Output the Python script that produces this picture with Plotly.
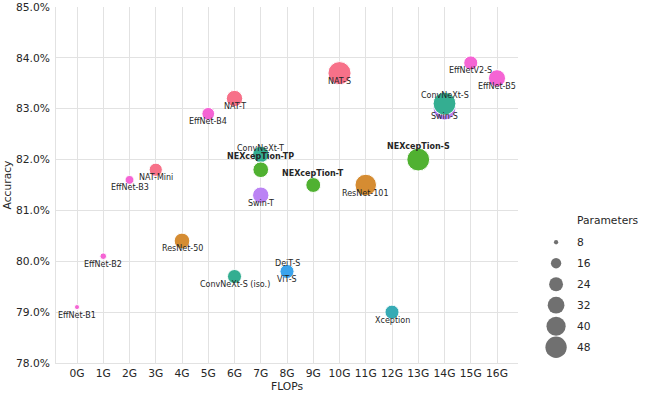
import plotly.graph_objects as go

# ---------------- data ----------------
models = ["EffNet-B1", "EffNet-B2", "EffNet-B3", "NAT-Mini", "EffNet-B4", "NAT-T",
          "ConvNeXt-T", "NEXcepTion-TP", "Swin-T", "NEXcepTion-T", "NAT-S", "ResNet-101",
          "NEXcepTion-S", "Swin-S", "ConvNeXt-S", "EffNetV2-S", "EffNet-B5", "ResNet-50",
          "ConvNeXt-S (iso.)", "ViT-S", "DeiT-S", "Xception"]
flops = [0, 1, 2, 3, 5, 6, 7, 7, 7, 9, 10, 11, 13, 14, 14, 15, 16, 4, 6, 8, 8, 12]
accuracy = [79.1, 80.1, 81.6, 81.8, 82.9, 83.2, 82.1, 81.8, 81.3, 81.5, 83.7, 81.5,
            82.0, 83.0, 83.1, 83.9, 83.6, 80.4, 79.7, 79.8, 79.8, 79.0]
params = [7.8, 9.2, 12, 20, 19, 28, 28, 26, 28, 24, 51, 45, 50, 50, 50, 22, 30, 26, 22, 22, 22, 22]
family = ["EffNet", "EffNet", "EffNet", "NAT", "EffNet", "NAT", "ConvNeXt", "NEXcepTion",
          "Swin", "NEXcepTion", "NAT", "ResNet", "NEXcepTion", "Swin", "ConvNeXt", "EffNet",
          "EffNet", "ResNet", "ConvNeXt", "ViT", "DeiT", "Xception"]
x_tick_values = list(range(0, 17))
x_tick_labels = [f"{v}G" for v in x_tick_values]
y_tick_values = [78, 79, 80, 81, 82, 83, 84, 85]
y_tick_labels = [f"{v:.1f}%" for v in y_tick_values]
legend_sizes = [8, 16, 24, 32, 40, 48]

# ---------------- styles ----------------
family_colors = {"NAT": "#f77189", "ResNet": "#d58c32", "ViT": "#a4a031",
                 "NEXcepTion": "#50b131", "ConvNeXt": "#34ae91", "Xception": "#37abb5",
                 "DeiT": "#3ba3ec", "Swin": "#bb83f4", "EffNet": "#f564d4"}
# label vertical offset in px (negative = below)
label_shift = {"ConvNeXt-T": 6, "ConvNeXt-S": 8, "DeiT-S": 8,
               "NEXcepTion-TP": 13, "NEXcepTion-T": 12, "NEXcepTion-S": 13}
bold_models = {"NEXcepTion-TP", "NEXcepTion-T", "NEXcepTion-S"}
FONT = "DejaVu Sans"
TXT = "#262626"
GRID = "#e2e2e2"


def marker_diameter(p):
    return max(10.9 * p - 68.6, 4.0) ** 0.5


fig = go.Figure()

for m, fx, acc, p, fam in zip(models, flops, accuracy, params, family):
    fig.add_trace(go.Scatter(
        x=[fx], y=[acc], mode="markers", showlegend=False, hoverinfo="skip",
        marker=dict(size=marker_diameter(p) + 1, color=family_colors[fam],
                    line=dict(color="white", width=1))))

annotations = []
for m, fx, acc in zip(models, flops, accuracy):
    text = f"<b>{m}</b>" if m in bold_models else m
    annotations.append(dict(x=fx, y=acc, xref="x", yref="y", text=text, showarrow=False,
                            yshift=label_shift.get(m, -8),
                            font=dict(family=FONT, size=8, color=TXT)))

# size legend on a helper axis
fig.add_trace(go.Scatter(
    x=[0] * len(legend_sizes), y=list(range(len(legend_sizes))), xaxis="x2", yaxis="y2",
    mode="markers", showlegend=False, hoverinfo="skip",
    marker=dict(size=[marker_diameter(s) for s in legend_sizes], color="#333333",
                line=dict(width=0))))
for i, s in enumerate(legend_sizes):
    annotations.append(dict(x=19, y=i, xref="x2", yref="y2", text=str(s), showarrow=False,
                            xanchor="left", font=dict(family=FONT, size=10.7, color=TXT)))
annotations.append(dict(x=19, y=-1.03, xref="x2", yref="y2", text="Parameters",
                        showarrow=False, xanchor="left",
                        font=dict(family=FONT, size=10.7, color=TXT)))

fig.update_layout(
    width=646, height=396,
    margin=dict(l=56, r=0, t=7, b=33),
    plot_bgcolor="white", paper_bgcolor="white",
    font=dict(family=FONT, size=10.7, color=TXT),
    annotations=annotations,
    xaxis=dict(domain=[0, 462 / 590], range=[-0.8, 16.8], tickvals=x_tick_values,
               ticktext=x_tick_labels, showgrid=True, gridcolor=GRID, gridwidth=1,
               zeroline=False, showline=True, linecolor=GRID, linewidth=1,
               ticks="", ticklabelstandoff=0,
               title=dict(text="FLOPs", standoff=1, font=dict(size=10.7)),
               automargin=False, tickfont=dict(size=10.7, color=TXT)),
    yaxis=dict(range=[78, 85], tickvals=y_tick_values, ticktext=y_tick_labels,
               showgrid=True, gridcolor=GRID, gridwidth=1, zeroline=False,
               showline=True, linecolor=GRID, linewidth=1, ticks="",
               ticklabelstandoff=3,
               title=dict(text="Accuracy", standoff=2, font=dict(size=10.7)),
               automargin=False, tickfont=dict(size=10.7, color=TXT)),
    xaxis2=dict(domain=[0.79, 1], range=[-34, 90], visible=False, anchor="y2"),
    yaxis2=dict(range=[5.75, -11.2], visible=False, anchor="x2"),
)

fig.write_html("out.html", config={"displayModeBar": False},
               post_script="document.body.style.margin='0';")
